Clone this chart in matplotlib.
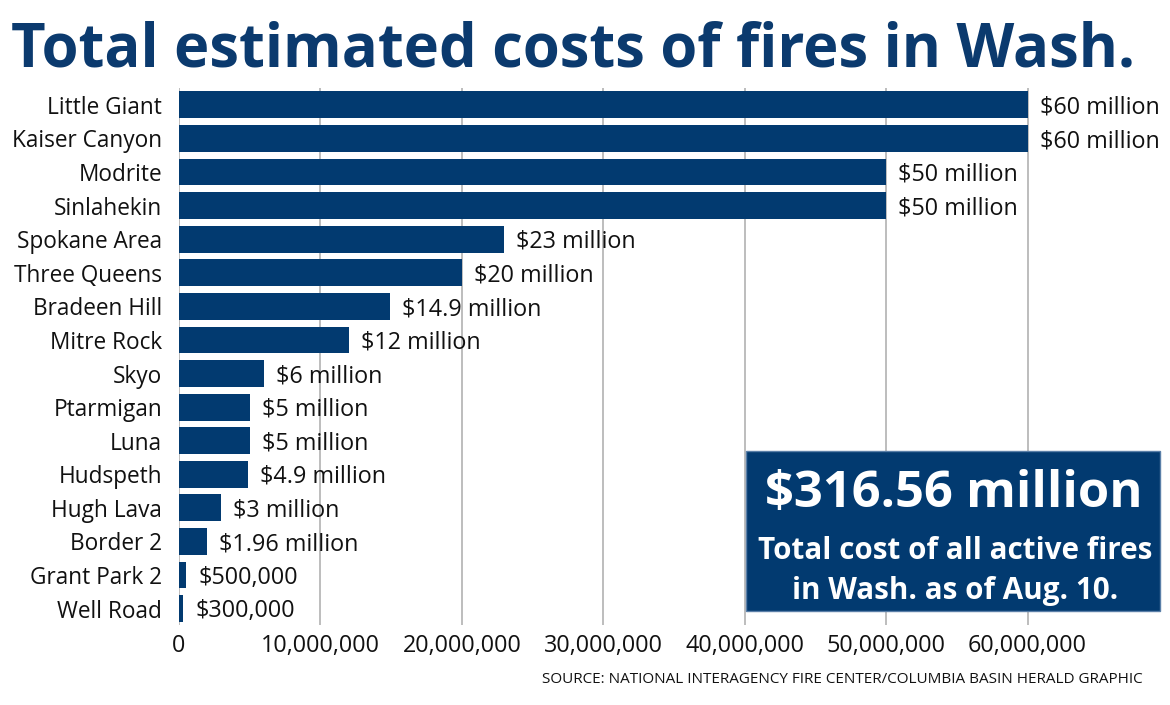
import matplotlib.pyplot as plt
from matplotlib.patches import Rectangle
import matplotlib.ticker as ticker

fires = ['Little Giant', 'Kaiser Canyon', 'Modrite', 'Sinlahekin', 'Spokane Area',
         'Three Queens', 'Bradeen Hill', 'Mitre Rock', 'Skyo', 'Ptarmigan', 'Luna',
         'Hudspeth', 'Hugh Lava', 'Border 2', 'Grant Park 2', 'Well Road']
costs = [60e6, 60e6, 50e6, 50e6, 23e6, 20e6, 14.9e6, 12e6, 6e6, 5e6, 5e6,
         4.9e6, 3e6, 1.96e6, 500e3, 300e3]
cost_labels = ['$60 million', '$60 million', '$50 million', '$50 million',
               '$23 million', '$20 million', '$14.9 million', '$12 million',
               '$6 million', '$5 million', '$5 million', '$4.9 million',
               '$3 million', '$1.96 million', '$500,000', '$300,000']
x_ticks = [0, 10e6, 20e6, 30e6, 40e6, 50e6, 60e6]

navy = '#023a70'
plt.rcParams['font.family'] = ['Open Sans', 'DejaVu Sans']

fig = plt.figure(figsize=(11.7, 7.05), dpi=100)
ax = fig.add_axes([0.153, 0.113, 0.834, 0.762])

ypos = list(range(len(fires)))
ax.barh(ypos, costs, height=0.8, color=navy, zorder=3)
for y, c, lab in zip(ypos, costs, cost_labels):
    ax.text(c + 0.85e6, y + 0.08, lab, va='center', ha='left', fontsize=16.8,
            color='#111111', zorder=4)

ax.set_ylim(len(fires) - 0.5, -0.5)
ax.set_xlim(0, 69e6)
ax.set_yticks(ypos)
ax.set_yticklabels(fires, fontsize=16.3, color='#111111')
ax.set_xticks(x_ticks)
ax.xaxis.set_major_formatter(ticker.StrMethodFormatter('{x:,.0f}'))
ax.tick_params(axis='x', labelsize=16.8, length=0, pad=6, labelcolor='#111111')
ax.tick_params(axis='y', length=0, pad=12)
ax.grid(axis='x', color='#bdbdbd', linewidth=1.4, zorder=0)
for s in ax.spines.values():
    s.set_visible(False)

fig.text(0.009, 0.927, 'Total estimated costs of fires in Wash.', fontsize=43,
         fontweight='bold', color='#0b3a6e', ha='left', va='center')

fig.patches.append(Rectangle((0.6376, 0.1333), 0.3538, 0.227, transform=fig.transFigure,
                             facecolor=navy, edgecolor='#5a7fa8', linewidth=1, zorder=5))
fig.text(0.815, 0.300, '$316.56 million', fontsize=36.5, fontweight='bold',
         color='white', ha='center', va='center', zorder=6)
fig.text(0.816, 0.219, 'Total cost of all active fires', fontsize=21.3, fontweight='bold',
         color='white', ha='center', va='center', zorder=6)
fig.text(0.816, 0.161, 'in Wash. as of Aug. 10.', fontsize=21.3, fontweight='bold',
         color='white', ha='center', va='center', zorder=6)

fig.text(0.977, 0.036, 'SOURCE: NATIONAL INTERAGENCY FIRE CENTER/COLUMBIA BASIN HERALD GRAPHIC',
         fontsize=11, color='#111111', ha='right', va='center')

plt.savefig('out.png')
